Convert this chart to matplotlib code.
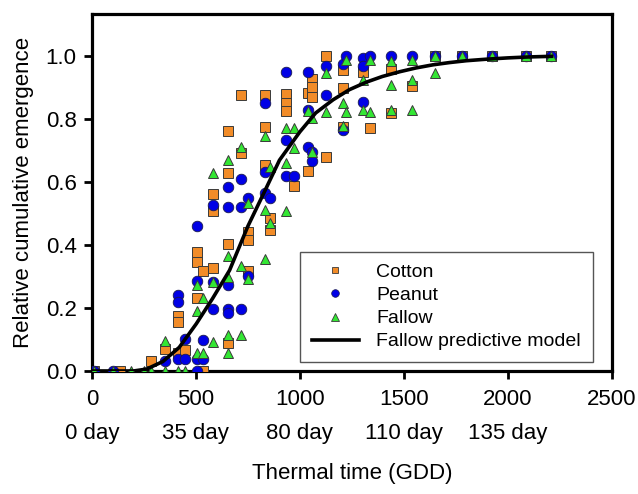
import matplotlib
matplotlib.use("Agg")
import matplotlib.pyplot as plt
from matplotlib.lines import Line2D

plt.rcParams['font.family'] = ['Liberation Sans', 'DejaVu Sans']

# observed relative cumulative emergence (GDD, fraction)
cotton_x = [10, 135, 285, 350, 415, 415, 415, 450, 505, 505, 505, 533, 533,
            580, 580, 580, 655, 655, 655, 655, 715, 715, 750, 750, 750,
            830, 830, 830, 855, 855, 933, 933, 933, 972, 1040, 1040,
            1058, 1058, 1058, 1125, 1125, 1207, 1207, 1207, 1303, 1337,
            1438, 1438, 1538, 1650, 1780, 1925, 2087, 2207]
cotton_y = [0, 0, 0.033, 0.069, 0.175, 0.155, 0.058, 0.068, 0.378, 0.346, 0.232, 0.317, 0,
            0.564, 0.51, 0.327, 0.763, 0.63, 0.404, 0.09, 0.876, 0.694, 0.441, 0.415, 0.319,
            0.877, 0.775, 0.654, 0.486, 0.449, 0.88, 0.853, 0.827, 0.588, 0.883, 0.636,
            0.928, 0.904, 0.872, 1.0, 0.681, 0.958, 0.899, 0.775, 0.95, 0.771,
            0.96, 0.819, 0.906, 1.0, 1.0, 1.0, 1.0, 1.0]

peanut_x = [10, 100, 350, 415, 415, 415, 450, 450, 505, 505, 505, 505, 533, 533,
            580, 580, 580, 655, 655, 655, 655, 655, 715, 715, 715, 750, 750,
            830, 830, 830, 855, 933, 933, 933, 972, 1040, 1040, 1040, 1058, 1058,
            1125, 1125, 1207, 1207, 1223, 1303, 1303, 1303, 1337, 1438, 1538,
            1650, 1780, 1925, 2087, 2207]
peanut_y = [0, 0, 0.032, 0.24, 0.22, 0.038, 0.101, 0.037, 0.46, 0.285, 0.037, 0, 0.098, 0.037,
            0.529, 0.282, 0.197, 0.585, 0.521, 0.274, 0.197, 0.183, 0.61, 0.521, 0.197, 0.551, 0.303,
            0.851, 0.633, 0.567, 0.551, 0.95, 0.734, 0.62, 0.62, 0.95, 0.83, 0.713, 0.697, 0.668,
            0.968, 0.878, 0.977, 0.765, 1.0, 0.995, 0.968, 0.856, 1.0, 1.0, 1.0,
            1.0, 1.0, 1.0, 1.0, 1.0]

fallow_x = [10, 100, 190, 250, 285, 350, 350, 415, 450, 505, 505, 505, 533, 533,
            580, 580, 580, 655, 655, 655, 655, 655, 715, 715, 715, 750, 750,
            830, 830, 830, 855, 855, 933, 933, 933, 972, 972, 1040, 1058, 1058,
            1125, 1125, 1207, 1207, 1223, 1223, 1303, 1303, 1337, 1337,
            1438, 1438, 1438, 1538, 1538, 1538, 1650, 1650, 1780, 1925, 2087, 2207]
fallow_y = [0, 0, 0, 0, 0, 0.096, 0, 0, 0, 0.274, 0.19, 0.057, 0.232, 0.057,
            0.63, 0.282, 0.093, 0.672, 0.367, 0.298, 0.114, 0.057, 0.711, 0.335, 0.114, 0.534, 0.293,
            0.747, 0.511, 0.356, 0.649, 0.47, 0.771, 0.66, 0.508, 0.771, 0.708, 0.825, 0.803, 0.697,
            0.947, 0.824, 0.851, 0.777, 0.988, 0.824, 0.926, 0.83, 0.988, 0.824,
            0.984, 0.91, 0.828, 0.988, 0.926, 0.828, 1.0, 0.947, 1.0, 1.0, 1.0, 1.0]

# fallow predictive model
model_x = [0, 200, 263, 341, 420, 502, 580, 662, 750, 830, 902, 1000, 1076, 1160,
           1238, 1320, 1397, 1480, 1558, 1640, 1718, 1800, 1900, 2000, 2100, 2210]
model_y = [0, 0.0, 0.006, 0.03, 0.075, 0.15, 0.23, 0.32, 0.46, 0.57, 0.67, 0.76, 0.82, 0.862,
           0.894, 0.918, 0.936, 0.951, 0.963, 0.973, 0.98, 0.986, 0.991, 0.995, 0.998, 1.0]

xticks = [0, 500, 1000, 1500, 2000, 2500]
xtick_labels = ['0\n0 day', '500\n35 day', '1000\n80 day', '1500\n110 day', '2000\n135 day', '2500\n ']

fig = plt.figure(figsize=(6.38, 4.94), dpi=100)
ax = fig.add_axes([0.144, 0.249, 0.815, 0.723])

edge = '#3a3a3a'
ax.plot(cotton_x, cotton_y, 's', color='#F28C28', mec=edge, mew=0.7, ms=7, label='Cotton', zorder=3)
ax.plot(peanut_x, peanut_y, 'o', color='#0000E6', mec='#1a1a50', mew=0.6, ms=7.6, label='Peanut', zorder=3)
ax.plot(fallow_x, fallow_y, '^', color='#33E633', mec=edge, mew=0.7, ms=7.6, label='Fallow', zorder=3)
ax.plot(model_x, model_y, '-', color='black', lw=2.6, label='Fallow predictive model', zorder=4)

ax.set_xlim(0, 2500)
ax.set_ylim(0, 1.135)
ax.set_yticks([0, 0.2, 0.4, 0.6, 0.8, 1.0])
ax.set_yticklabels(['0.0', '0.2', '0.4', '0.6', '0.8', '1.0'])
ax.set_xticks(xticks)
ax.set_xticklabels(xtick_labels, linespacing=1.8)

for s in ax.spines.values():
    s.set_linewidth(2.3)
ax.tick_params(axis='both', direction='out', length=6, width=2, labelsize=16, pad=5)
ax.tick_params(axis='x', pad=7)

ax.set_xlabel('Thermal time (GDD)', fontsize=16, labelpad=14)
ax.set_ylabel('Relative cumulative emergence', fontsize=16, labelpad=8)

handles = [
    Line2D([], [], ls='', marker='s', color='#F28C28', mec=edge, mew=0.6, ms=5),
    Line2D([], [], ls='', marker='o', color='#0000E6', mec='#1a1a50', mew=0.5, ms=5.5),
    Line2D([], [], ls='', marker='^', color='#33E633', mec=edge, mew=0.6, ms=5.5),
    Line2D([], [], color='black', lw=2.6),
]
leg = ax.legend(handles, ['Cotton', 'Peanut', 'Fallow', 'Fallow predictive model'],
                loc='lower right', bbox_to_anchor=(0.963, 0.025), fontsize=14,
                frameon=True, fancybox=False, framealpha=1, edgecolor='#555555',
                handlelength=2.4, handletextpad=0.9, labelspacing=0.28,
                borderpad=0.6, borderaxespad=0)
leg.get_frame().set_linewidth(1.0)

fig.savefig('out.png', dpi=100)
